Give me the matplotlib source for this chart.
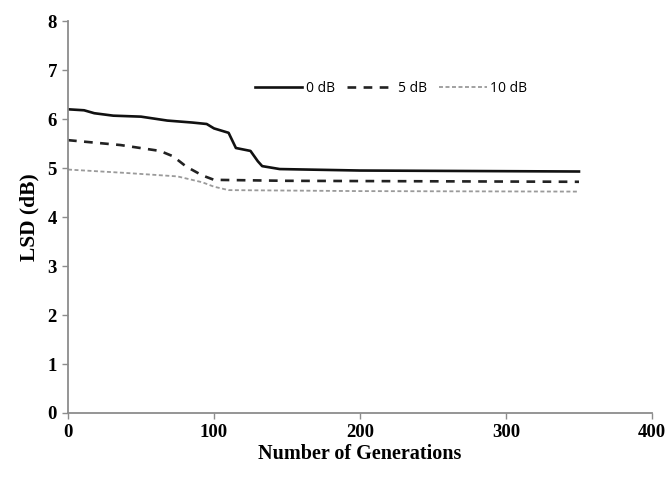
import matplotlib
matplotlib.use("Agg")
import matplotlib.pyplot as plt

gen_0db = [0, 11, 18, 31, 50, 68, 85, 95, 100, 110, 115, 125, 130, 133, 145, 200, 350]
lsd_0db = [6.20, 6.18, 6.12, 6.07, 6.05, 5.97, 5.93, 5.90, 5.81, 5.72, 5.41, 5.35, 5.14, 5.04, 4.98, 4.95, 4.93]

gen_5db = [0, 36, 63, 72, 81, 92, 100, 150, 350]
lsd_5db = [5.57, 5.47, 5.35, 5.24, 5.03, 4.85, 4.76, 4.74, 4.72]

gen_10db = [0, 40, 75, 92, 100, 110, 200, 350]
lsd_10db = [4.97, 4.90, 4.83, 4.71, 4.62, 4.55, 4.53, 4.52]

series_labels = ["0 dB", "5 dB", "10 dB"]
x_ticks = [0, 100, 200, 300, 400]
y_ticks = [0, 1, 2, 3, 4, 5, 6, 7, 8]

fig = plt.figure(figsize=(6.70, 4.88), dpi=100)
ax = fig.add_axes([0.1015, 0.1537, 0.8716, 0.803])

ax.plot(gen_0db, lsd_0db, color="#111111", lw=1.9, ls="-", label=series_labels[0])
ax.plot(gen_5db, lsd_5db, color="#222222", lw=1.9, ls=(0, (3.3, 2.8)), label=series_labels[1])
ax.plot(gen_10db, lsd_10db, color="#9a9a9a", lw=1.3, ls=(0, (2.2, 1.4)), label=series_labels[2])

ax.set_xlim(0, 400)
ax.set_ylim(0, 8)
ax.set_xticks(x_ticks)
ax.set_yticks(y_ticks)

for s in ["top", "right"]:
    ax.spines[s].set_visible(False)
for s in ["left", "bottom"]:
    ax.spines[s].set_color("#8c8c8c")
    ax.spines[s].set_linewidth(1.3)

ax.tick_params(axis="both", direction="out", length=4, width=1.0, color="#8c8c8c",
               labelsize=13.5, pad=4)
for lab in ax.get_xticklabels() + ax.get_yticklabels():
    lab.set_fontfamily("Liberation Serif")
    lab.set_fontweight("bold")

ax.set_xlabel("Number of Generations", fontfamily="Liberation Serif", fontweight="bold",
              fontsize=14.5, labelpad=2)
ax.set_ylabel("LSD (dB)", fontfamily="Liberation Serif", fontweight="bold",
              fontsize=15.5, labelpad=6)

leg = ax.legend(loc="center", bbox_to_anchor=(0.553, 0.829), ncol=3, frameon=False,
                prop={"family": "Open Sans", "size": 10}, handlelength=3.4,
                handletextpad=0.25, columnspacing=0.9)

fig.savefig("out.png", dpi=100)
